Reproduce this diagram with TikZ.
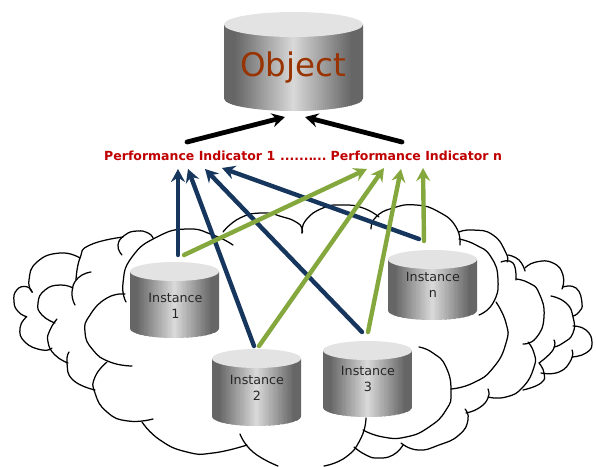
\documentclass[tikz,border=0pt]{standalone}
\usepackage{fontspec}
\setmainfont{DejaVu Sans}
\usetikzlibrary{arrows.meta}
\definecolor{navyarrow}{HTML}{17365D}
\definecolor{greenarrow}{HTML}{85A83E}
\definecolor{pired}{HTML}{C00000}
\definecolor{objbrown}{HTML}{993300}
\definecolor{cyltop}{HTML}{E3E3E3}
\definecolor{cyledge}{HTML}{666666}
\definecolor{cylmid}{HTML}{DADADA}
\tikzset{
  cloudline/.style={black,line width=1.25pt,line cap=round,line join=round},
  cyllid/.style={fill=cyltop,draw=none},
  cyltext/.style={inner sep=0pt,align=center,text=black!85,font=\fontsize{12.7}{16}\selectfont},
  pitext/.style={inner sep=0pt,anchor=base west,text=pired,font=\fontsize{12.5}{15}\selectfont\bfseries},
  linkbase/.style={line width=4.4pt,line cap=round,-{Stealth[length=13pt,width=14pt,inset=4.5pt]}},
  navylink/.style={linkbase,navyarrow},
  greenlink/.style={linkbase,greenarrow},
  blacklink/.style={linkbase,black,line width=4.8pt},
  cloudarc/.style={smooth,tension=.9},
}
% #1 left, #2 right, #3 top, #4 bottom, #5 lid half-height
\newcommand{\cylshape}[5]{%
  \pgfmathsetmacro{\rxx}{(#2-#1)/2}%
  \pgfmathsetmacro{\cxx}{(#1+#2)/2}%
  \begin{scope}
    \clip (#1,#3+#5) -- (#1,#4-#5) arc[start angle=180,end angle=360,x radius=\rxx pt,y radius=#5pt] -- (#2,#3+#5) -- cycle;
    \foreach \k in {0,...,69}{%
      \pgfmathsetmacro{\sx}{#1+(#2-#1)*\k/70}%
      \pgfmathsetmacro{\sw}{(#2-#1)/70+0.6}%
      \pgfmathsetmacro{\mixv}{min(100,abs((\k+0.5)/70-0.5)/0.42*100)}%
      \fill[cyledge!\mixv!cylmid] (\sx,#3) rectangle ++(\sw,#4-#3+1);
    }%
  \end{scope}
  \path[cyllid] (\cxx,#3+#5) ellipse[x radius=\rxx pt,y radius=#5pt];
}
\begin{document}
\begin{tikzpicture}[x=1pt,y=-1pt]
\useasboundingbox (0,0) rectangle (596,466);
\fill[white] (0,0) rectangle (596,466);
% cloud
\begin{scope}[cloudline]
\draw plot[cloudarc] coordinates {(32.3,292.3)(26.7,286.7)(16.7,290)(14,301.7)(18.3,311.7)(26.7,316.7)};
\draw plot[cloudarc] coordinates {(26.7,316.7)(20,328)(25,342)(42,350)(52,348)};
\draw plot[cloudarc] coordinates {(32,292)(29,280)(37,262)(60,253)(80,258)};
\draw plot[cloudarc] coordinates {(76,280)(80,258)(90,245)(123,237)};
\draw plot[cloudarc] coordinates {(122,255)(118,245)(125,235)(137,231)(148,233)(153,238)};
\draw plot[cloudarc] coordinates {(126,302)(123,283)(132,257)(157,237)(187,229)(213,235)(233,245)};
\draw plot[cloudarc] coordinates {(91,272)(78,278)(72,292)(75,305)};
\draw plot[cloudarc] coordinates {(55,323)(42,315)(38,303)(45,290)(60,285)(73,288)};
\draw plot[cloudarc] coordinates {(57,319)(50,330)(48,342)(55,355)(68,363)};
\draw plot[cloudarc] coordinates {(69,352)(67,363)(73,380)(95,390)};
\draw plot[cloudarc] coordinates {(125,294)(107,298)(90,315)(85,332)(93,350)(110,362)(132,366)};
\draw plot[cloudarc] coordinates {(107,362)(95,377)(95,393)(107,412)(128,421)(153,419)};
\draw plot[cloudarc] coordinates {(142,422)(160,440)(187,452)(213,453)(247,445)};
\draw plot[cloudarc] coordinates {(240,434)(253,452)(278,466)};
\draw plot[cloudarc] coordinates {(324,466)(346,457)(361,438)(366,418)};
\draw plot[cloudarc] coordinates {(354,447)(366,455)(378,458)(393,455)(403,445)};
\draw plot[cloudarc] coordinates {(363,430)(383,437)(406,437)(429,427)(446,410)(451,392)(446,367)(433,353)(419,347)};
\draw plot[cloudarc] coordinates {(401,443)(418,450)(439,445)(459,435)(468,420)(465,409)};
\draw plot[cloudarc] coordinates {(466,413)(479,408)(488,398)(488,389)};
\draw plot[cloudarc] coordinates {(451,389)(473,383)(493,368)(506,343)(506,323)(496,302)};
\draw plot[cloudarc] coordinates {(488,397)(506,397)(523,387)(534,367)(534,353)(528,342)};
\draw plot[cloudarc] coordinates {(523,344)(536,338)(544,317)(539,293)(529,283)(516,279)};
\draw plot[cloudarc] coordinates {(479,315)(493,303)(498,280)(491,257)(476,245)(459,239)};
\draw plot[cloudarc] coordinates {(460,245)(456,227)(439,212)(416,205)(393,208)(376,217)(371,229)};
\draw plot[cloudarc] coordinates {(223,232)(240,218)(263,213)(283,217)(296,222)(302,228)(302,233)};
\draw plot[cloudarc] coordinates {(379,217)(363,208)(343,205)(323,208)(306,220)(302,233)};
\draw plot[cloudarc] coordinates {(459,232)(473,230)(493,235)(506,253)(507,262)};
\draw plot[cloudarc] coordinates {(501,262)(513,263)(516,280)};
\draw plot[cloudarc] coordinates {(508,255)(519,260)(525,271)};
\draw plot[cloudarc] coordinates {(525,268)(536,262)(553,263)(563,275)(562,289)};
\draw plot[cloudarc] coordinates {(563,287)(576,288)(582,303)(579,312)(573,316)};
\draw plot[cloudarc] coordinates {(551,296)(566,303)(573,317)(573,333)(563,343)(554,347)};
\draw plot[cloudarc] coordinates {(573,326)(586,330)(592,343)(586,353)(572,357)};
\draw plot[cloudarc] coordinates {(572,350)(571,360)(559,372)(541,373)};
\draw plot[cloudarc] coordinates {(554,340)(553,350)(539,363)};
\draw plot[cloudarc] coordinates {(539,363)(544,373)(541,383)(523,390)};
\end{scope}
% cylinders
\cylshape{224}{363}{12}{111}{12.5}
\cylshape{130}{219}{262}{338}{9.5}
\cylshape{212}{301}{349}{426}{9.5}
\cylshape{323}{412}{341}{417}{9.5}
\cylshape{388}{477}{250}{320}{9.5}
\node[inner sep=0pt,anchor=base,text=objbrown,font=\fontsize{32.5}{36}\selectfont] (object) at (293,76) {Object};
\node[cyltext] (inst1) at (175.5,306) {Instance\\1};
\node[cyltext] (inst2) at (257,388) {Instance\\2};
\node[cyltext] (inst3) at (368,379) {Instance\\3};
\node[cyltext] (instn) at (433,285) {Instance\\n};
% labels
\node[pitext] (pione) at (104,160) {Performance Indicator 1};
\node[pitext] (pidots) at (280,160) {.......\kern-1pt...};
\node[pitext] (pien) at (330.5,160) {Performance Indicator n};
% connector ends
\coordinate (oin1) at (285,117);
\coordinate (oin2) at (305,117);
\coordinate (pout1) at (187,142);
\coordinate (pout2) at (402,142);
\coordinate (b1s) at (178,255);  \coordinate (b1e) at (178,169);
\coordinate (b2s) at (254,346);  \coordinate (b2e) at (188,169);
\coordinate (b3s) at (362,332);  \coordinate (b3e) at (205,169);
\coordinate (b4s) at (419,239);  \coordinate (b4e) at (222,168);
\coordinate (g1s) at (184,255);  \coordinate (g1e) at (367,169);
\coordinate (g2s) at (259,346);  \coordinate (g2e) at (384,168);
\coordinate (g3s) at (368,332);  \coordinate (g3e) at (401,169);
\coordinate (g4s) at (424,241);  \coordinate (g4e) at (423,168);
\draw[blacklink] (pout1) -- (oin1);
\draw[blacklink] (pout2) -- (oin2);
\draw[navylink] (b1s) -- (b1e);
\draw[navylink] (b2s) -- (b2e);
\draw[navylink] (b3s) -- (b3e);
\draw[navylink] (b4s) -- (b4e);
\draw[greenlink] (g1s) -- (g1e);
\draw[greenlink] (g2s) -- (g2e);
\draw[greenlink] (g3s) -- (g3e);
\draw[greenlink] (g4s) -- (g4e);
\end{tikzpicture}
\end{document}
